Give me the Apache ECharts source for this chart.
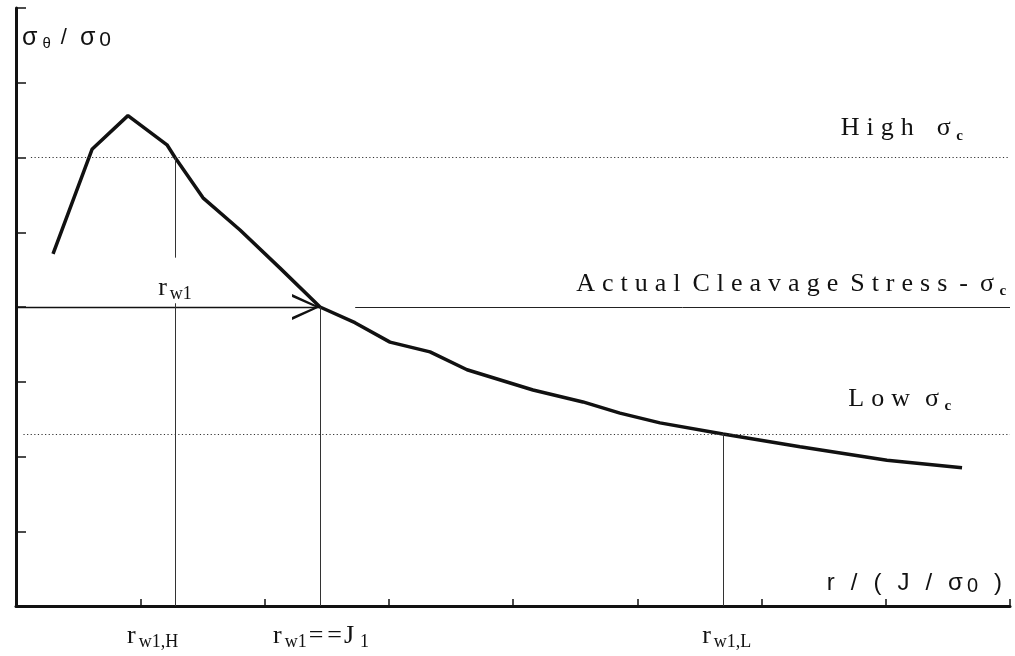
<!DOCTYPE html>
<html>
<head>
<meta charset="utf-8">
<script src="https://cdn.jsdelivr.net/npm/echarts@6/dist/echarts.min.js"></script>
<style>
  html, body { margin: 0; padding: 0; background: #fff; }
  #chart { width: 1015px; height: 656px; }
</style>
</head>
<body>
<div id="chart"></div>
<script>
// Normalised distance ahead of the crack tip, r / (J / σ0)
const rValues = [0.298, 0.612, 0.901, 1.215, 1.28, 1.505, 1.803, 2.125, 2.447, 2.728, 3.010,
                 3.332, 3.630, 4.161, 4.563, 4.861, 5.183, 5.69, 6.310, 7.010, 7.614];
// Normalised opening stress, σθ / σ0
const stressValues = [4.71, 6.11, 6.56, 6.17, 6.0, 5.46, 5.03, 4.52, 4.0, 3.79, 3.53,
                      3.40, 3.16, 2.89, 2.73, 2.58, 2.45, 2.3, 2.13, 1.95, 1.85];

// Cleavage stress levels
const highStress = 6.0;
const actualStress = 4.0;
const lowStress = 2.3;

// Distances at which each cleavage stress level meets the stress curve
const rwlHigh = 1.28;
const rwlActual = 2.447;
const rwlLow = 5.69;

// Axis extents (ticks every unit, no tick labels)
const xMax = 8;
const yMax = 8;

const serif = '"Liberation Serif", "Times New Roman", serif';
const sans = '"Liberation Sans", Arial, sans-serif';
const ink = '#111';

// Letter-spaced rich text: each character becomes its own padded fragment
function tracked(text, style, spaceStyle) {
  return Array.from(text).map(ch =>
    ch === ' ' ? '{' + spaceStyle + '|\u00a0}' : '{' + style + '|' + ch + '}'
  ).join('');
}

const richSerif = {
  L:    { fontFamily: serif, fontSize: 26, lineHeight: 30, color: ink, padding: [0, 3.5, 0, 3.5] },
  Lsp:  { fontFamily: serif, fontSize: 26, lineHeight: 30, color: ink, width: 8 },
  Lsn:  { fontFamily: serif, fontSize: 26, lineHeight: 30, color: ink, width: 5 },
  Lsub: { fontFamily: serif, fontSize: 15, lineHeight: 15, color: ink, fontWeight: 'bold',
          verticalAlign: 'bottom', padding: [0, 0, 0, 2] },
  R:    { fontFamily: serif, fontSize: 26, lineHeight: 30, color: ink },
  Rp:   { fontFamily: serif, fontSize: 26, lineHeight: 30, color: ink, padding: [0, 2, 0, 2] },
  Rsub: { fontFamily: serif, fontSize: 18, lineHeight: 25, color: ink, verticalAlign: 'bottom',
          padding: [0, 0, 0, 3] },
  Jsub: { fontFamily: serif, fontSize: 18, lineHeight: 21, color: ink, verticalAlign: 'bottom',
          padding: [0, 0, 0, 6] }
};

const dotted = { type: [1.2, 2.4], width: 1, color: '#333' };
const thin = { type: 'solid', width: 1, color: '#333' };
const chevron = 'path://M13,0L26,28L23,28L13,5L3,28L0,28Z';

function textMark(coord, formatter, align, offset) {
  return {
    coord: coord,
    symbol: 'circle',
    symbolSize: 1,
    itemStyle: { color: 'rgba(0,0,0,0)' },
    label: {
      show: true,
      position: 'inside',
      align: align,
      verticalAlign: 'middle',
      offset: offset || [0, 0],
      formatter: formatter,
      rich: richSerif
    }
  };
}

const chart = echarts.init(document.getElementById('chart'), null, { renderer: 'canvas' });

chart.setOption({
  animation: false,
  backgroundColor: '#fff',
  grid: { left: 16, right: 5, top: 8, bottom: 50, outerBoundsMode: 'none' },
  xAxis: {
    type: 'value',
    min: 0,
    max: xMax,
    interval: 1,
    axisLine: { show: true, onZero: false, lineStyle: { color: ink, width: 3 } },
    axisTick: { show: true, inside: true, length: 7, lineStyle: { color: ink, width: 1.5 } },
    axisLabel: { show: false },
    splitLine: { show: false },
    name: '{a|r}{g| }{a|/}{g| }{a|(}{g| }{a|J}{g| }{a|/}{g| }{a|σ}{z|0}{p|)}',
    nameLocation: 'end',
    nameGap: -8,
    nameTextStyle: {
      align: 'right',
      verticalAlign: 'bottom',
      padding: [0, 0, 10, 0],
      rich: {
        a: { fontFamily: sans, fontSize: 24, lineHeight: 26, color: ink, padding: [0, 3, 0, 3] },
        g: { fontFamily: sans, fontSize: 24, lineHeight: 26, color: ink, width: 10 },
        z: { fontFamily: sans, fontSize: 20, lineHeight: 22, color: ink, verticalAlign: 'bottom',
             padding: [0, 0, 0, 1] },
        p: { fontFamily: sans, fontSize: 24, lineHeight: 26, color: ink, padding: [0, 0, 0, 16] }
      }
    }
  },
  yAxis: {
    type: 'value',
    min: 0,
    max: yMax,
    interval: 1,
    axisLine: { show: true, onZero: false, lineStyle: { color: ink, width: 3 } },
    axisTick: { show: true, inside: true, length: 10, lineStyle: { color: ink, width: 1.5 } },
    axisLabel: { show: false },
    splitLine: { show: false },
    name: '{a|σ}{t|θ}{s|/}{a|σ}{z|0}',
    nameLocation: 'end',
    nameGap: -30,
    nameTextStyle: {
      align: 'left',
      verticalAlign: 'middle',
      padding: [0, 0, 0, 6],
      rich: {
        a: { fontFamily: sans, fontSize: 25, lineHeight: 26, color: ink },
        t: { fontFamily: sans, fontSize: 15, lineHeight: 17, color: ink, verticalAlign: 'bottom',
             padding: [0, 0, 0, 5] },
        s: { fontFamily: sans, fontSize: 22, lineHeight: 26, color: ink, padding: [0, 13, 0, 10] },
        z: { fontFamily: sans, fontSize: 21, lineHeight: 21, color: ink, verticalAlign: 'bottom',
             padding: [0, 0, 0, 4] }
      }
    }
  },
  series: [{
    type: 'line',
    data: rValues.map((r, i) => [r, stressValues[i]]),
    symbol: 'none',
    clip: false,
    lineStyle: { color: ink, width: 3.5 },
    z: 3,
    markLine: {
      silent: true,
      symbol: ['none', 'none'],
      label: { show: false },
      lineStyle: thin,
      data: [
        // stress levels
        [{ coord: [0.12, highStress], lineStyle: dotted }, { coord: [xMax, highStress] }],
        [{ coord: [0.06, lowStress], lineStyle: dotted }, { coord: [xMax, lowStress] }],
        [{ coord: [0, actualStress], lineStyle: { type: 'solid', width: 1.3, color: ink } },
         { coord: [rwlActual, actualStress], symbol: chevron, symbolSize: [26, 28], symbolOffset: [0, 14] }],
        [{ coord: [2.73, actualStress], lineStyle: { type: 'solid', width: 1, color: '#222' } },
         { coord: [xMax, actualStress] }],
        // distances where the levels cross the curve
        [{ coord: [rwlHigh, 0] }, { coord: [rwlHigh, 4.05] }],
        [{ coord: [rwlHigh, 4.66] }, { coord: [rwlHigh, highStress] }],
        [{ coord: [rwlActual, 0] }, { coord: [rwlActual, actualStress] }],
        [{ coord: [rwlLow, 0] }, { coord: [rwlLow, lowStress] }]
      ]
    },
    markPoint: {
      silent: true,
      data: [
        textMark([6.61, 6.39], tracked('High  σ', 'L', 'Lsp') + '{Lsub|c}', 'left'),
        textMark([4.48, 4.31], tracked('Actual Cleavage Stress - σ', 'L', 'Lsn') + '{Lsub|c}', 'left'),
        textMark([6.67, 2.77], tracked('Low σ', 'L', 'Lsp') + '{Lsub|c}', 'left'),
        textMark([rwlHigh, 4.25], '{R|r}{Rsub|w1}', 'center'),
        textMark([1.10, 0], '{R|r}{Rsub|w1,H}', 'center', [0, 30]),
        textMark([2.455, 0], '{R|r}{Rsub|w1}{Rp|=}{Rp|=}{R|J}{Jsub|1}', 'center', [0, 30]),
        textMark([5.72, 0], '{R|r}{Rsub|w1,L}', 'center', [0, 30])
      ]
    }
  }]
});
</script>
</body>
</html>
